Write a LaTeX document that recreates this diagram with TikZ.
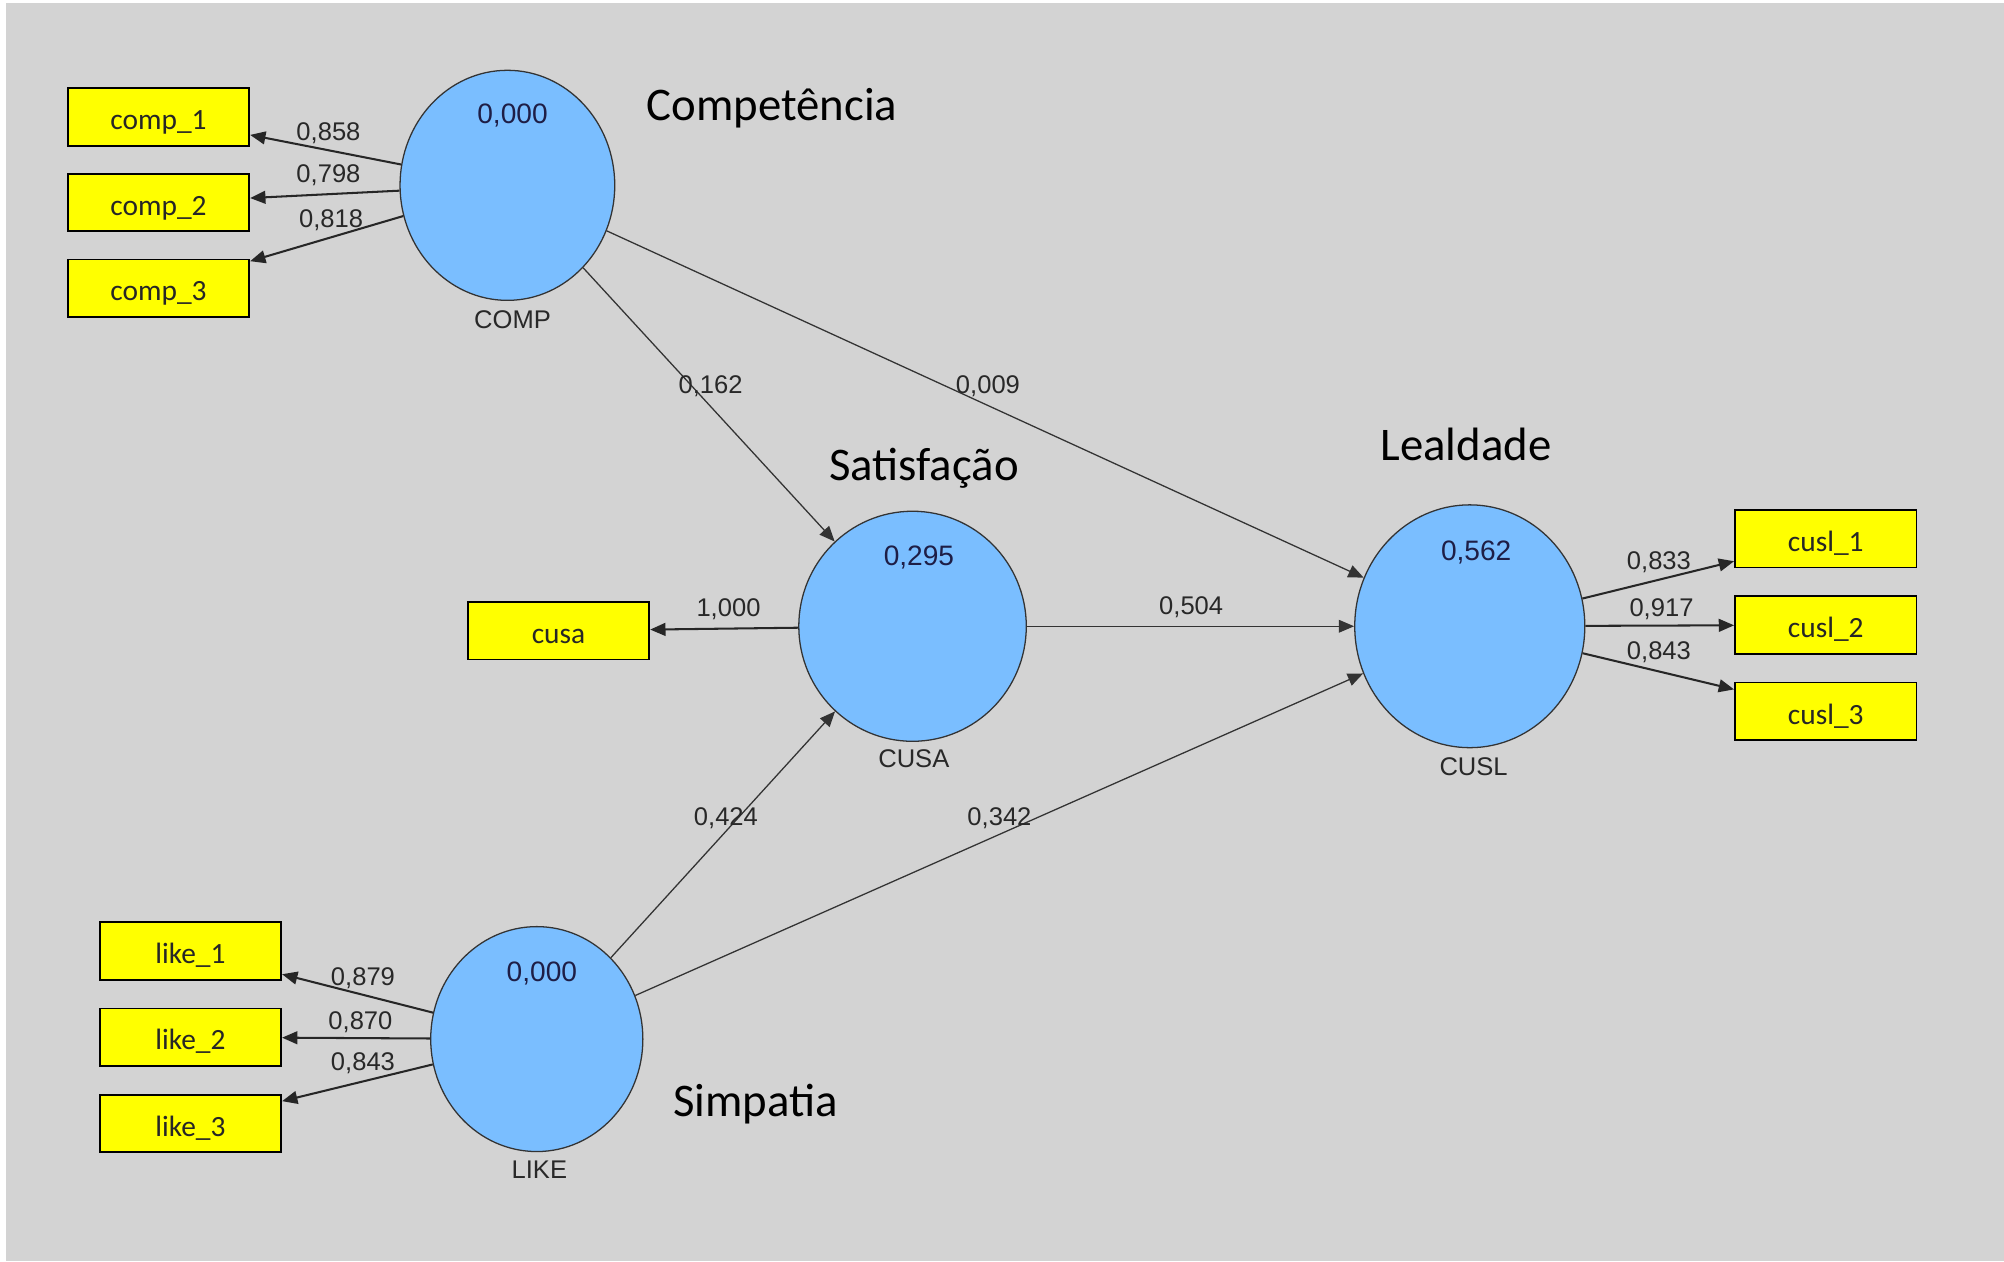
\documentclass[tikz,border=0pt]{standalone}
\usepackage{fontspec}
\setmainfont{Liberation Sans}
\newfontfamily\calib{Carlito}
\usetikzlibrary{shapes.geometric,arrows.meta}
\definecolor{bggray}{RGB}{211,211,211}
\definecolor{lvblue}{RGB}{122,190,255}
\definecolor{mvyellow}{RGB}{255,255,0}
\definecolor{numcol}{RGB}{40,40,40}
\definecolor{rsqcol}{RGB}{30,30,70}
\tikzset{
  lv/.style={ellipse, draw=black!80, line width=0.5pt, fill=lvblue, inner sep=0pt},
  mv/.style={rectangle, draw=black, line width=0.7pt, fill=mvyellow, minimum width=71pt, minimum height=22.5pt, inner sep=0pt, text height=10pt, text depth=0pt, font=\calib\fontsize{11.5}{13}\selectfont, text=black!85},
  load/.style={draw=black!85, line width=0.8pt, -{Triangle[length=6pt,width=5pt]}},
  path/.style={draw=black!80, line width=0.5pt, -{Triangle[length=6pt,width=5pt]}},
  lab/.style={font=\fontsize{10}{12}\selectfont, text=numcol, inner sep=0pt},
  rsq/.style={font=\fontsize{11}{13}\selectfont, text=rsqcol, inner sep=0pt},
  lvname/.style={font=\fontsize{10}{12}\selectfont, text=numcol, inner sep=0pt},
  title/.style={font=\calib\fontsize{18.3}{21}\selectfont, text=black, inner sep=0pt}
}
\begin{document}
\begin{tikzpicture}[x=0.5pt,y=-0.5pt]
\useasboundingbox (0,0) rectangle (1568,987);
\fill[white] (0,0) rectangle (1568,987);
\fill[bggray] (4.7,2.3) rectangle (1568,987);

% latent variables
\node[lv, minimum width=84pt, minimum height=90pt] (COMP) at (397,145) {};
\node[lv, minimum width=89pt, minimum height=90pt] (CUSA) at (714,490) {};
\node[lv, minimum width=90pt, minimum height=95pt] (CUSL) at (1150,490) {};
\node[lv, minimum width=83pt, minimum height=88pt] (LIKE) at (420,813) {};

% manifest variables
\node[mv] (comp1) at (124,91.5) {comp\_1};
\node[mv] (comp2) at (124,158.5) {comp\_2};
\node[mv] (comp3) at (124,225.5) {comp\_3};
\node[mv] (cusa) at (437,493.5) {cusa};
\node[mv] (cusl1) at (1428.5,421.5) {cusl\_1};
\node[mv] (cusl2) at (1428.5,489) {cusl\_2};
\node[mv] (cusl3) at (1428.5,556.5) {cusl\_3};
\node[mv] (like1) at (149,744) {like\_1};
\node[mv] (like2) at (149,811.5) {like\_2};
\node[mv] (like3) at (149,879) {like\_3};

% connectors
\draw[load] (COMP) -- (comp1);
\draw[load] (COMP) -- (comp2);
\draw[load] (COMP) -- (comp3);
\draw[load] (CUSA) -- (cusa);
\draw[load] (CUSL) -- (cusl1);
\draw[load] (CUSL) -- (cusl2);
\draw[load] (CUSL) -- (cusl3);
\draw[load] (LIKE) -- (like1);
\draw[load] (LIKE) -- (like2);
\draw[load] (LIKE) -- (like3);
\draw[path] (COMP) -- (CUSA);
\draw[path] (COMP) -- (CUSL);
\draw[path] (CUSA) -- (CUSL);
\draw[path] (LIKE) -- (CUSA);
\draw[path] (LIKE) -- (CUSL);

% connector labels
\node[lab] (l1) at (257,104) {0,858};
\node[lab] (l2) at (257,137) {0,798};
\node[lab] (l3) at (259,172) {0,818};
\node[lab] (l4) at (556,302) {0,162};
\node[lab] (l5) at (773,302) {0,009};
\node[lab] (l6) at (570,477) {1,000};
\node[lab] (l7) at (932,475) {0,504};
\node[lab] (l8) at (568,640) {0,424};
\node[lab] (l9) at (782,640) {0,342};
\node[lab] (l10) at (1298,440) {0,833};
\node[lab] (l11) at (1300,477) {0,917};
\node[lab] (l12) at (1298,510) {0,843};
\node[lab] (l13) at (284,765) {0,879};
\node[lab] (l14) at (282,800) {0,870};
\node[lab] (l15) at (284,832) {0,843};

% latent variable texts
\node[rsq] (r1) at (401,90) {0,000};
\node[lvname] (n1) at (401,250) {COMP};
\node[rsq] (r2) at (719,436) {0,295};
\node[lvname] (n2) at (715,594) {CUSA};
\node[rsq] (r3) at (1155,432) {0,562};
\node[lvname] (n3) at (1153,600) {CUSL};
\node[rsq] (r4) at (424,762) {0,000};
\node[lvname] (n4) at (422,915) {LIKE};

% titles
\node[title] (t1) at (604,85) {Competência};
\node[title] (t2) at (723,366) {Satisfação};
\node[title] (t3) at (1147,348) {Lealdade};
\node[title] (t4) at (591,864) {Simpatia};
\end{tikzpicture}
\end{document}
